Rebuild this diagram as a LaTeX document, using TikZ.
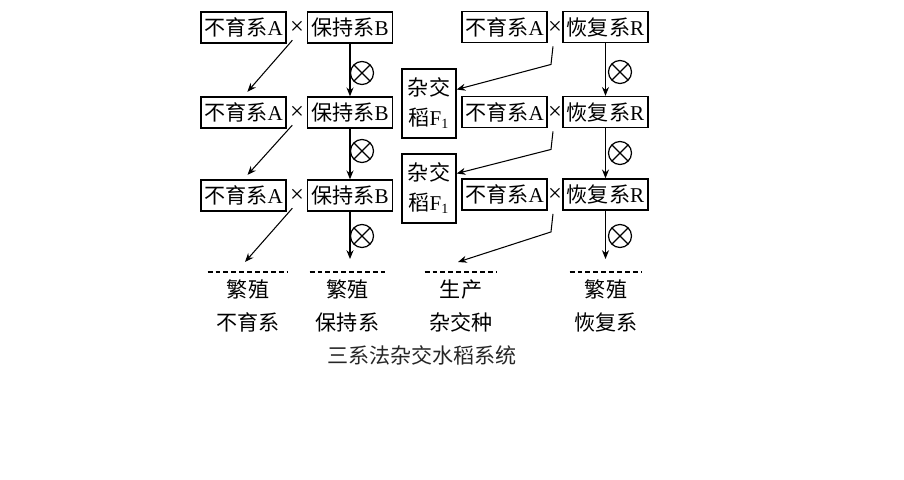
\documentclass[tikz,border=0pt]{standalone}
\usepackage{fontspec}
\setmainfont{Liberation Serif}
\newfontfamily\cjk{Noto Sans CJK SC}
\usetikzlibrary{arrows.meta}
\newcommand{\zh}[1]{{\cjk #1}}

\begin{document}
\begin{tikzpicture}[x=0.02cm,y=-0.02cm]
\tikzstyle{line box} = [draw, line width=0.8pt, minimum width=1.7cm, minimum height=0.62cm, inner sep=1pt, font=\fontsize{12}{14}\selectfont]
\tikzstyle{hybrid box} = [draw, line width=0.8pt, minimum width=1.08cm, minimum height=1.38cm, inner sep=1pt, align=center, font=\fontsize{12}{17}\selectfont]
\tikzstyle{cross sign} = [inner sep=0pt, font=\fontsize{14}{16}\selectfont]
\tikzstyle{selfing} = [draw, circle, line width=0.7pt, minimum size=0.46cm, inner sep=0pt, path picture={\draw[line width=0.7pt] (path picture bounding box.north east) -- (path picture bounding box.south west) (path picture bounding box.north west) -- (path picture bounding box.south east);}]
\tikzstyle{cross arrow} = [draw, line width=0.6pt, -{Stealth[length=5pt,width=4pt]}]
\tikzstyle{use label} = [anchor=north, align=center, inner xsep=0pt, inner ysep=4.3pt, font=\cjk\fontsize{12}{18.8}\selectfont]
\tikzstyle{dash rule} = [draw, line width=0.7pt, dash pattern=on 2.8pt off 1.7pt]
\useasboundingbox (0,0) rectangle (904,480);
% left half: A x B
\node[line box] (a_1) at (243.5, 27.5) {\zh{不育系}A};
\node[cross sign] (x_1) at (297, 28) {×};
\node[line box] (b_1) at (350, 27.5) {\zh{保持系}B};
\node[line box] (a_2) at (243.5, 112.5) {\zh{不育系}A};
\node[cross sign] (x_2) at (297, 113) {×};
\node[line box] (b_2) at (350, 112.5) {\zh{保持系}B};
\node[line box] (a_3) at (243.5, 195.5) {\zh{不育系}A};
\node[cross sign] (x_3) at (297, 196) {×};
\node[line box] (b_3) at (350, 195.5) {\zh{保持系}B};
% right half: A x R
\node[line box] (ar_1) at (504.5, 27) {\zh{不育系}A};
\node[cross sign] (x_4) at (555, 27.5) {×};
\node[line box] (r_1) at (605.5, 27) {\zh{恢复系}R};
\node[line box] (ar_2) at (504.5, 112) {\zh{不育系}A};
\node[cross sign] (x_5) at (555, 112.5) {×};
\node[line box] (r_2) at (605.5, 112) {\zh{恢复系}R};
\node[line box] (ar_3) at (504.5, 194.5) {\zh{不育系}A};
\node[cross sign] (x_6) at (555, 195) {×};
\node[line box] (r_3) at (605.5, 194.5) {\zh{恢复系}R};
\node[hybrid box] (f_1) at (429, 103.5) {\zh{杂交}\\\zh{稻}F\textsubscript{1}};
\node[hybrid box] (f_2) at (429, 188.5) {\zh{杂交}\\\zh{稻}F\textsubscript{1}};
% selfing signs
\node[selfing] (s_1) at (362, 73) {};
\node[selfing] (s_2) at (362, 151) {};
\node[selfing] (s_3) at (362, 236) {};
\node[selfing] (s_4) at (620, 72) {};
\node[selfing] (s_5) at (620, 153) {};
\node[selfing] (s_6) at (620, 236) {};
% bottom labels
\node[use label, minimum width=1.6cm] (t_1) at (248, 272) {繁殖\\不育系};
\node[use label, minimum width=1.5cm] (t_2) at (347.5, 272) {繁殖\\保持系};
\node[use label, minimum width=1.44cm] (t_3) at (461, 272) {生产\\杂交种};
\node[use label, minimum width=1.44cm] (t_4) at (606, 272) {繁殖\\恢复系};
\path[dash rule] (t_1.north west) -- (t_1.north east);
\path[dash rule] (t_2.north west) -- (t_2.north east);
\path[dash rule] (t_3.north west) -- (t_3.north east);
\path[dash rule] (t_4.north west) -- (t_4.north east);
\node[font=\cjk\fontsize{12}{14}\selectfont, text=black!85] (title) at (422, 355) {三系法杂交水稻系统};
% arrows
\path[cross arrow, shorten <=4pt, shorten >=3.4pt] (x_1.south) -- (a_2.north);
\path[cross arrow, shorten <=4pt, shorten >=3.4pt] (x_2.south) -- (a_3.north);
\path[cross arrow, shorten <=4pt] (x_3.south) -- ([shift={(-3,-10)}]t_1.north);
\path[cross arrow] (b_1.south) -- (b_2.north);
\path[cross arrow] (b_2.south) -- (b_3.north);
\path[cross arrow, shorten >=7.4pt] (b_3.south) -- (b_3.south |- t_2.north);
\path[cross arrow] ([shift={(-2,12)}]x_4.south) -- ++(-2,18) -- ([yshift=0.28cm]f_1.east);
\path[cross arrow] ([shift={(-2,12)}]x_5.south) -- ++(-2,18) -- ([yshift=0.3cm]f_2.east);
\path[cross arrow] ([shift={(-2,12)}]x_6.south) -- ++(-2,18) -- ([shift={(-3,-10)}]t_3.north);
\path[cross arrow] (r_1.south) -- (r_2.north);
\path[cross arrow] (r_2.south) -- (r_3.north);
\path[cross arrow, shorten >=7.4pt] (r_3.south) -- (r_3.south |- t_4.north);
\end{tikzpicture}
\end{document}
